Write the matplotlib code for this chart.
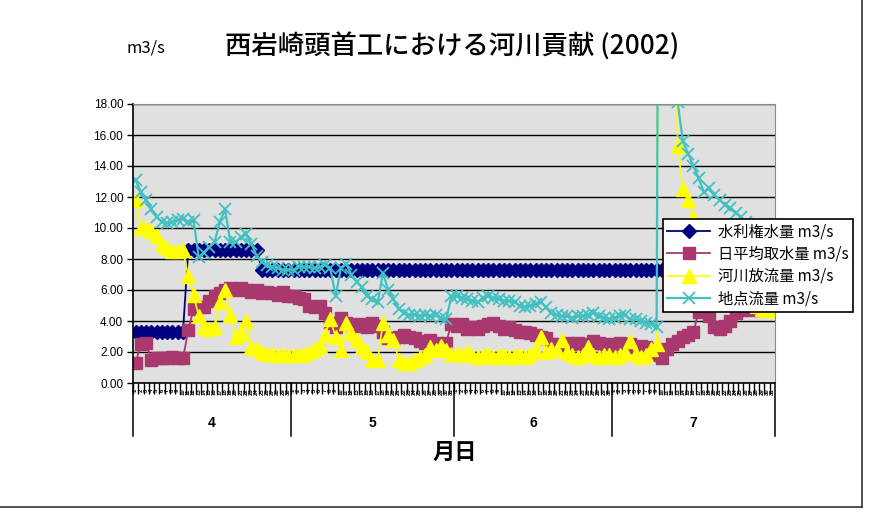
import numpy as np
import matplotlib
matplotlib.use("Agg")
import matplotlib.pyplot as plt
from matplotlib.lines import Line2D

plt.rcParams['font.family'] = ['Noto Sans CJK JP', 'DejaVu Sans']

######## DATA (2002/4/1 - 7/31, daily, m3/s) ########

months = ['4', '5', '6', '7']
month_days = [30, 31, 30, 31]

series_labels = ['水利権水量 m3/s', '日平均取水量 m3/s', '河川放流量 m3/s', '地点流量 m3/s']

# 水利権水量
water_right = [
    3.3, 3.3, 3.3, 3.3, 3.3, 3.3, 3.3, 3.3, 3.3, 3.3, 8.6, 8.6, 8.6, 8.6, 8.6,
    8.6, 8.6, 8.6, 8.6, 8.6, 8.6, 8.6, 8.6, 8.6, 7.3, 7.3, 7.3, 7.3, 7.3, 7.3,
    # May
    7.3, 7.3, 7.3, 7.3, 7.3, 7.3, 7.3, 7.3, 7.3, 7.3, 7.3, 7.3, 7.3, 7.3, 7.3, 7.3,
    7.3, 7.3, 7.3, 7.3, 7.3, 7.3, 7.3, 7.3, 7.3, 7.3, 7.3, 7.3, 7.3, 7.3, 7.3,
    # June
    7.3, 7.3, 7.3, 7.3, 7.3, 7.3, 7.3, 7.3, 7.3, 7.3, 7.3, 7.3, 7.3, 7.3, 7.3,
    7.3, 7.3, 7.3, 7.3, 7.3, 7.3, 7.3, 7.3, 7.3, 7.3, 7.3, 7.3, 7.3, 7.3, 7.3,
    # July
    7.3, 7.3, 7.3, 7.3, 7.3, 7.3, 7.3, 7.3, 7.3, 7.3, 7.3, 7.3, 7.3, 7.3, 7.3, 7.3,
    7.3, 7.3, 7.3, 7.3, 7.3, 7.3, 7.3, 7.3, 7.3, 7.3, 7.3, 7.3, 7.3, 7.3, 7.3,
]

# 日平均取水量
intake = [
    1.3, 2.5, 2.6, 1.5, 1.6, 1.6, 1.6, 1.7, 1.6, 1.6, 3.4, 4.8, 4.9, 4.9, 5.3,
    5.6, 5.8, 6.0, 6.1, 6.0, 6.1, 6.0, 5.9, 6.0, 5.8, 5.9, 5.8, 5.7, 5.9, 5.6,
    # May
    5.6, 5.5, 5.4, 5.0, 4.9, 5.0, 4.5, 3.9, 3.6, 4.2, 3.9, 3.8, 3.7, 3.8, 3.6, 3.9,
    3.7, 3.3, 2.9, 2.8, 3.0, 3.1, 3.0, 2.9, 2.7, 2.6, 2.8, 2.6, 2.5, 2.6, 3.8,
    # June
    3.7, 3.8, 3.5, 3.6, 3.5, 3.7, 3.8, 3.9, 3.7, 3.5, 3.6, 3.4, 3.3, 3.3, 3.2,
    3.1, 3.0, 2.9, 2.5, 2.5, 2.4, 2.6, 2.5, 2.6, 2.5, 2.4, 2.7, 2.6, 2.5, 2.4,
    # July
    2.5, 2.6, 2.4, 2.5, 2.3, 2.4, 2.3, 2.2, 1.8, 1.6, 2.2, 2.5, 2.7, 3.0, 3.1, 3.3,
    4.6, 4.8, 4.3, 3.6, 3.5, 3.7, 4.0, 4.5, 4.7, 4.8, 4.7, 4.8, 4.7, 4.8, 4.8,
]

# 河川放流量
river_release = [
    11.8, 10.0, 10.0, 9.8, 9.5, 9.0, 8.7, 8.5, 8.5, 8.6, 6.9, 5.7, 4.3, 3.6, 3.5,
    3.6, 5.2, 6.0, 4.4, 3.0, 3.2, 4.0, 2.3, 2.2, 2.0, 1.9, 1.9, 1.8, 1.8, 1.8,
    # May
    1.8, 1.8, 1.9, 2.0, 2.2, 2.4, 3.1, 4.1, 3.0, 2.1, 3.9, 3.2, 2.8, 2.3, 2.0, 1.5,
    1.5, 3.9, 3.1, 2.8, 1.5, 1.3, 1.3, 1.5, 1.7, 1.8, 2.3, 2.1, 2.4, 2.1, 1.9,
    # June
    1.9, 1.8, 2.0, 1.8, 1.7, 1.8, 1.9, 1.7, 1.8, 1.8, 1.7, 1.8, 1.8, 1.7, 1.9,
    2.1, 3.0, 2.0, 2.2, 2.1, 2.8, 2.0, 1.8, 1.7, 1.8, 2.3, 1.8, 1.7, 1.8, 1.8,
    # July
    1.7, 1.8, 2.0, 2.7, 1.9, 1.7, 1.8, 2.2, 2.5, 80.0, 66.0, 36.0, 15.3, 12.5, 11.8,
    10.7, 8.6, 7.5, 8.3, 8.5, 8.3, 7.8, 7.3, 6.5, 6.0, 5.6, 5.3, 5.0, 4.8, 4.7, 4.7,
]

# 地点流量
site_flow = [
    13.1, 12.3, 11.8, 11.2, 10.7, 10.4, 10.3, 10.4, 10.5, 10.6, 10.4, 10.5, 8.1, 8.4, 8.8,
    9.1, 10.4, 11.2, 9.1, 9.1, 9.4, 9.6, 9.0, 8.2, 7.8, 7.6, 7.5, 7.4, 7.3, 7.3,
    # May
    7.3, 7.5, 7.5, 7.5, 7.4, 7.5, 7.6, 7.4, 5.6, 7.4, 7.7, 7.0, 6.5, 6.2, 5.6, 5.4,
    5.2, 7.1, 6.0, 5.4, 4.8, 4.5, 4.4, 4.4, 4.3, 4.4, 4.3, 4.4, 4.2, 4.1, 5.6,
    # June
    5.6, 5.5, 5.4, 5.3, 5.2, 5.5, 5.6, 5.5, 5.4, 5.3, 5.3, 5.2, 5.0, 4.9, 5.0,
    5.1, 5.2, 4.9, 4.5, 4.4, 4.3, 4.3, 4.2, 4.3, 4.3, 4.4, 4.5, 4.3, 4.2, 4.1,
    # July
    4.2, 4.3, 4.4, 4.1, 4.1, 4.0, 3.9, 3.8, 3.6, 85.0, 70.0, 40.0, 18.1, 15.6, 14.8,
    14.0, 13.2, 12.3, 12.6, 12.1, 11.8, 11.5, 11.3, 11.0, 10.7, 10.4, 10.0, 9.8, 9.5, 9.5, 9.5,
]

y_ticks = [0, 2, 4, 6, 8, 10, 12, 14, 16, 18]

####### PLOT #######

day_numbers = []
for n in month_days:
    day_numbers += list(range(1, n + 1))
x = np.arange(len(day_numbers))

fig = plt.figure(figsize=(8.69, 5.22), dpi=100)
fig.patch.set_facecolor('white')
ax = fig.add_axes([133/869, 1 - 383/522, (775 - 133)/869, (383 - 104)/522])
ax.set_facecolor('#e0e0e0')

ax.set_xlim(-0.5, len(x) - 0.5)
ax.set_ylim(0, 18)
ax.set_yticks(y_ticks)
ax.set_yticklabels(['%.2f' % v for v in y_ticks], fontsize=8.5, family='Liberation Sans')
ax.yaxis.grid(True, color='black', linewidth=1.0)
ax.set_axisbelow(True)
ax.tick_params(axis='y', length=4, width=1, direction='out', pad=3)

# day ticks and labels
ax.set_xticks(x)
ax.set_xticklabels([str(d) for d in day_numbers], rotation=90, fontsize=4.3,
                   family='Liberation Sans', fontweight='bold')
ax.set_xticks(x - 0.5, minor=True)
ax.tick_params(axis='x', which='major', length=0, pad=4)
ax.tick_params(axis='x', which='minor', length=8, width=1.0, direction='out')

for side in ['top', 'right']:
    ax.spines[side].set_color('#8a8a8a')
for side in ['left', 'bottom']:
    ax.spines[side].set_color('black')
    ax.spines[side].set_linewidth(1.2)

# series
l1, = ax.plot(x, water_right, color='#000080', marker='D', markersize=7, linewidth=1.3)
l2, = ax.plot(x, intake, color='#a8386e', marker='s', markersize=8, linewidth=1.3)
l3, = ax.plot(x, river_release, color='#ffff00', marker='^', markersize=10, linewidth=1.2)
l4, = ax.plot(x, site_flow, color='#40c0c0', marker='x', markersize=9, markeredgewidth=1.3,
              linewidth=1.6)

# month separators and labels
bounds = np.cumsum([0] + month_days) - 0.5
for b in bounds:
    ax.plot([b, b], [0, -0.19], transform=ax.get_xaxis_transform(), color='black',
            linewidth=1.1, clip_on=False)
for i, m in enumerate(months):
    ax.text((bounds[i] + bounds[i + 1]) / 2, -0.143, m, transform=ax.get_xaxis_transform(),
            ha='center', va='center', fontsize=10, family='Liberation Sans', fontweight='bold')

fig.text(455/869, 1 - 452/522, '月日', ha='center', va='center', fontsize=16, fontweight='bold')
fig.text(452/869, 1 - 47/522, '西岩崎頭首工における河川貢献 (2002)', ha='center', va='center',
         fontsize=19, fontweight='medium')
fig.text(146/869, 1 - 48/522, 'm3/s', ha='center', va='center', fontsize=12)

leg = fig.legend([l1, l2, l3, l4], series_labels, loc='upper left',
                 bbox_to_anchor=(655/869, 1 - 211/522), fontsize=11, handlelength=2.8,
                 labelspacing=0.35, borderpad=0.3, handletextpad=0.5,
                 fancybox=False, framealpha=1, edgecolor='black')
leg.get_frame().set_linewidth(1.2)

# outer chart frame
fig.add_artist(Line2D([862/869, 862/869], [1 - 507/522, 1], transform=fig.transFigure,
                      color='#333333', linewidth=1.2))
fig.add_artist(Line2D([0, 862/869], [1 - 507/522, 1 - 507/522], transform=fig.transFigure,
                      color='#333333', linewidth=1.2))

fig.savefig('out.png', dpi=100)
